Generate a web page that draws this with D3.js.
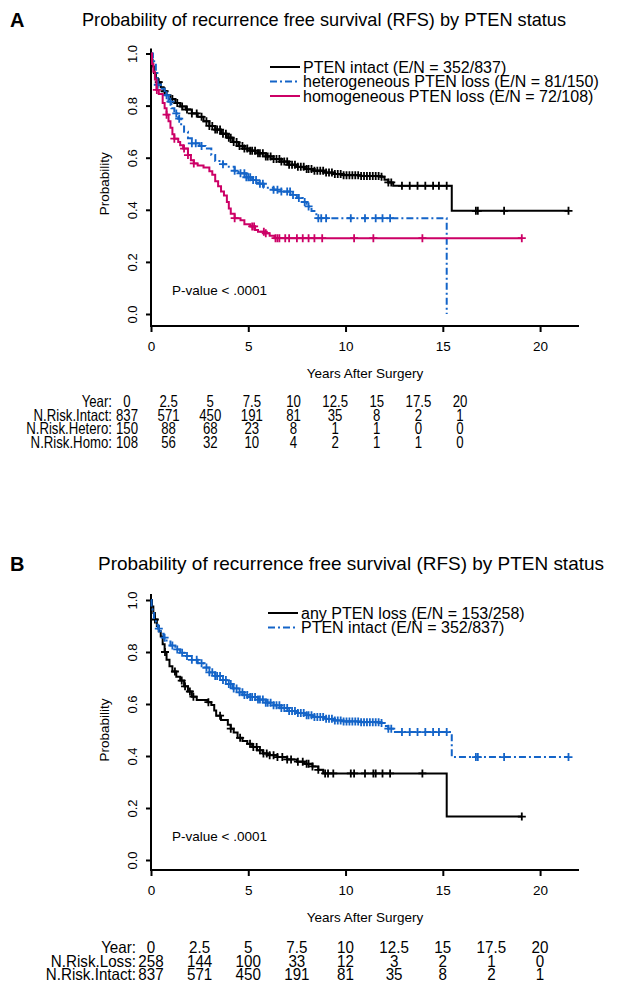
<!DOCTYPE html>
<meta charset="utf-8">
<style>
  body { margin: 0; background: #fff; }
  svg text { font-family: "Liberation Sans", Arial, sans-serif; fill: #000; }
</style>
<svg width="629" height="990"></svg>
<script src="https://d3js.org/d3.v7.min.js"></script>
<script>

  // ---------- data ----------
  var years = [0, 2.5, 5, 7.5, 10, 12.5, 15, 17.5, 20];
  var yearLabels = ["0", "2.5", "5", "7.5", "10", "12.5", "15", "17.5", "20"];

  // Kaplan-Meier steps: [years, probability]
  var intactSteps = [[0,1],[0.03,0.975],[0.08,0.95],[0.15,0.925],[0.25,0.905],[0.35,0.89],[0.5,0.87],
    [0.65,0.855],[0.8,0.84],[1.0,0.825],[1.25,0.81],[1.5,0.797],[1.8,0.785],[2.1,0.77],[2.4,0.757],
    [2.7,0.74],[3.0,0.722],[3.3,0.708],[3.6,0.692],[3.9,0.677],[4.2,0.66],[4.5,0.645],[4.8,0.635],
    [5.1,0.627],[5.5,0.617],[5.9,0.605],[6.3,0.595],[6.7,0.585],[7.1,0.573],[7.5,0.565],[7.9,0.557],
    [8.4,0.55],[8.9,0.543],[9.4,0.537],[9.9,0.533],[10.8,0.53],[11.8,0.527],[12.0,0.515],[12.2,0.505],
    [12.45,0.492],[15.46,0.396],[21.46,0.396]];
  var intactCensor = [0.4,0.7,1.1,1.35,1.6,1.85,2.1,2.35,2.6,2.85,3.0,3.15,3.3,3.4,3.55,3.7,3.85,4.0,
    4.1,4.25,4.4,4.55,4.7,4.8,4.95,5.1,5.2,5.35,5.5,5.6,5.75,5.9,6.0,6.15,6.3,6.45,6.6,6.7,6.85,7.0,
    7.1,7.25,7.4,7.55,7.7,7.85,8.0,8.1,8.25,8.4,8.55,8.7,8.85,9.0,9.15,9.3,9.45,9.6,9.75,9.9,10.05,
    10.2,10.35,10.5,10.65,10.8,10.95,11.1,11.25,11.4,11.55,11.7,11.85,12.2,12.35,12.9,13.3,13.7,
    14.1,14.5,14.8,15.2,16.7,16.8,18.15,21.46];

  var heteroSteps = [[0,1],[0.1,0.97],[0.25,0.93],[0.33,0.88],[0.5,0.865],[0.7,0.84],[0.9,0.815],
    [1.05,0.79],[1.2,0.77],[1.4,0.75],[1.55,0.72],[1.7,0.7],[1.9,0.675],[2.1,0.655],[2.5,0.645],
    [2.8,0.635],[3.1,0.61],[3.3,0.587],[3.7,0.575],[4.0,0.565],[4.3,0.55],[4.5,0.54],[4.9,0.525],
    [5.2,0.514],[5.5,0.5],[5.8,0.485],[6.3,0.477],[6.7,0.47],[7.2,0.457],[7.5,0.445],[7.8,0.43],
    [8.0,0.413],[8.25,0.395],[8.5,0.368],[15.2,0]];
  var heteroCensor = [0.35,0.8,1.0,1.3,1.45,2.1,2.3,2.6,3.7,4.3,4.6,4.8,4.9,5.0,5.1,5.25,5.4,5.6,
    5.75,6.3,6.5,6.7,7.0,7.15,7.3,7.6,7.9,8.1,8.6,8.75,9.0,10.27,11.0,11.55,11.9,12.29];

  var homoSteps = [[0,1],[0.05,0.96],[0.12,0.93],[0.2,0.9],[0.28,0.86],[0.4,0.845],[0.6,0.81],
    [0.7,0.79],[0.8,0.765],[0.9,0.74],[1.0,0.715],[1.1,0.69],[1.2,0.673],[1.4,0.66],[1.5,0.648],
    [1.65,0.635],[1.9,0.61],[2.05,0.59],[2.2,0.578],[2.4,0.57],[2.7,0.562],[3.0,0.548],[3.15,0.535],
    [3.3,0.51],[3.45,0.49],[3.6,0.47],[3.75,0.455],[3.9,0.43],[4.0,0.405],[4.1,0.385],[4.3,0.368],
    [4.6,0.36],[4.8,0.345],[5.1,0.336],[5.35,0.322],[5.5,0.316],[5.85,0.31],[6.1,0.3],[6.35,0.291],
    [19.06,0.291]];
  var homoCensor = [0.3,0.8,1.2,1.7,1.9,2.2,4.3,5.2,5.3,5.8,5.9,6.4,6.5,6.6,6.9,7.1,7.5,7.8,8.1,
    8.4,8.8,10.44,11.43,13.95,19.06];

  var lossSteps = [[0,1],[0.05,0.975],[0.12,0.95],[0.2,0.925],[0.3,0.9],[0.4,0.88],[0.5,0.86],
    [0.6,0.83],[0.7,0.8],[0.8,0.77],[0.95,0.745],[1.1,0.725],[1.3,0.705],[1.5,0.69],[1.7,0.668],
    [1.9,0.648],[2.1,0.628],[2.35,0.615],[2.9,0.607],[3.1,0.596],[3.25,0.575],[3.35,0.555],
    [3.6,0.538],[3.95,0.52],[4.1,0.505],[4.25,0.49],[4.45,0.47],[4.7,0.458],[4.95,0.447],[5.2,0.435],
    [5.45,0.422],[5.75,0.41],[6.0,0.403],[6.5,0.396],[7.0,0.387],[7.5,0.378],[7.9,0.37],[8.3,0.36],
    [8.6,0.347],[8.85,0.333],[15.2,0.167],[19.06,0.167]];
  var lossCensor = [0.2,0.72,1.23,1.58,1.75,2.0,2.18,2.95,3.55,4.1,4.58,5.09,5.26,5.43,5.6,5.78,
    5.95,6.1,6.3,6.5,6.75,7.0,7.2,7.55,7.8,8.0,8.1,8.3,8.6,8.95,9.1,9.37,10.27,10.44,11.0,11.43,
    11.55,11.9,12.29,13.95,19.06];

  // numbers at risk
  var riskIntact = [837, 571, 450, 191, 81, 35, 8, 2, 1];
  var riskHetero = [150, 88, 68, 23, 8, 1, 1, 0, 0];
  var riskHomo   = [108, 56, 32, 10, 4, 2, 1, 1, 0];
  var riskLoss   = [258, 144, 100, 33, 12, 3, 2, 1, 0];

  var legendA = ["PTEN intact (E/N = 352/837)", "heterogeneous PTEN loss (E/N = 81/150)",
                 "homogeneous PTEN loss (E/N = 72/108)"];
  var legendB = ["any PTEN loss (E/N = 153/258)", "PTEN intact (E/N = 352/837)"];

  var title = "Probability of recurrence free survival (RFS) by PTEN status";

  var BLACK = "#000", BLUE = "#1464c8", PINK = "#cc0066";
  var DASHDOT = "7,3,2,3";

  var svg = d3.select("svg");

  function stepAt(steps, t) {
    var s = steps[0][1];
    steps.forEach(function(p) { if (p[0] <= t) s = p[1]; });
    return s;
  }

  function panel(o) {
    var g = svg.append("g");
    var x = d3.scaleLinear().domain([0, 22]).range([151, 579]);
    var y = d3.scaleLinear().domain([0, 1]).range([o.y0, o.y1]);

    // panel letter + title
    g.append("text").attr("x", 10).attr("y", o.titleY + 7)
      .style("font-size", "20px").style("font-weight", "bold").text(o.letter);
    g.append("text").attr("x", o.titleX).attr("y", o.titleY + 6)
      .attr("textLength", o.titleW).attr("lengthAdjust", "spacingAndGlyphs")
      .style("font-size", "19px").text(title);

    // L-shaped frame
    g.append("path")
      .attr("d", "M" + x(0) + "," + (y(1) - o.topPad) + "V" + o.axisY + "H" + x(22))
      .attr("fill", "none").attr("stroke", "#000").attr("stroke-width", 2);

    // x axis
    var xa = g.append("g").attr("transform", "translate(0," + o.axisY + ")")
      .call(d3.axisBottom(x).tickValues([0, 5, 10, 15, 20]).tickSize(6).tickPadding(9));
    xa.select(".domain").remove();
    xa.selectAll("line").attr("stroke-width", 2);
    xa.selectAll("text").style("font-size", "13.5px").attr("fill", "#000");

    // y axis
    var ya = g.append("g").attr("transform", "translate(" + x(0) + ",0)")
      .call(d3.axisLeft(y).tickValues([0, 0.2, 0.4, 0.6, 0.8, 1]).tickFormat(d3.format(".1f")).tickSize(5));
    ya.select(".domain").remove();
    ya.selectAll("line").attr("stroke-width", 2);
    ya.selectAll("text")
      .attr("x", 0).attr("y", -14).attr("dy", "0")
      .attr("transform", "rotate(-90)")
      .attr("text-anchor", "middle")
      .style("font-size", "13px").attr("fill", "#000");

    g.append("text")
      .attr("transform", "translate(109," + y(0.5) + ") rotate(-90)")
      .attr("text-anchor", "middle").style("font-size", "13.5px").text("Probability");

    g.append("text").attr("x", (x(0) + x(22)) / 2).attr("y", o.axisY + 52)
      .attr("text-anchor", "middle").style("font-size", "13.5px").text("Years After Surgery");

    g.append("text").attr("x", 172).attr("y", y(0.09) + 4.5)
      .style("font-size", "13.5px").text("P-value < .0001");

    // curves
    var line = d3.line().x(function(d) { return x(d[0]); }).y(function(d) { return y(d[1]); })
      .curve(d3.curveStepAfter);
    o.series.forEach(function(s) {
      g.append("path").datum(s.steps).attr("d", line)
        .attr("fill", "none").attr("stroke", s.color).attr("stroke-width", 2)
        .attr("stroke-dasharray", s.dash || null);
      g.append("g").selectAll("path").data(s.censor).join("path")
        .attr("transform", function(t) { return "translate(" + x(t) + "," + y(stepAt(s.steps, t)) + ")"; })
        .attr("d", "M-4,0H4M0,-4V4")
        .attr("stroke", s.color).attr("stroke-width", 1.8);
    });

    // legend
    o.legend.forEach(function(lbl, i) {
      var s = o.series[o.legendOrder[i]];
      var ly = o.legendY + i * 14.5;
      g.append("line").attr("x1", o.legendX).attr("x2", o.legendX + 30)
        .attr("y1", ly).attr("y2", ly).attr("stroke", s.color).attr("stroke-width", 2)
        .attr("stroke-dasharray", s.dash || null);
      g.append("text").attr("x", o.legendX + 33).attr("y", ly + 5.5)
        .style("font-size", "16px").text(lbl);
    });

    // numbers at risk, own column scale per panel
    var col = d3.scaleLinear().domain([0, 20]).range(o.tableCols);
    o.table.forEach(function(row, r) {
      var ty = o.tableY + r * 13.6;
      g.append("text")
        .attr("transform", "translate(" + o.tableLabelX + "," + ty + ") scale(" + o.tableSx + ",1)")
        .attr("text-anchor", "end").style("font-size", "16.5px").text(row.label);
      g.append("g").selectAll("text").data(row.values).join("text")
        .attr("transform", function(v, j) { return "translate(" + col(years[j]) + "," + ty + ") scale(" + o.tableSx + ",1)"; })
        .attr("text-anchor", "middle").style("font-size", "16.5px").text(function(v) { return v; });
    });
  }

  panel({
    letter: "A", titleX: 82, titleY: 20, titleW: 484,
    y0: 314, y1: 53.5, topPad: 5, axisY: 326,
    series: [
      {steps: intactSteps, censor: intactCensor, color: BLACK},
      {steps: heteroSteps, censor: heteroCensor, color: BLUE, dash: DASHDOT},
      {steps: homoSteps, censor: homoCensor, color: PINK}
    ],
    legend: legendA, legendOrder: [0, 1, 2], legendX: 270, legendY: 67,
    tableY: 407, tableCols: [127, 460], tableLabelX: 112, tableSx: 0.8,
    table: [
      {label: "Year:", values: yearLabels},
      {label: "N.Risk.Intact:", values: riskIntact},
      {label: "N.Risk.Hetero:", values: riskHetero},
      {label: "N.Risk.Homo:", values: riskHomo}
    ]
  });

  panel({
    letter: "B", titleX: 98, titleY: 564, titleW: 506,
    y0: 860, y1: 600, topPad: 6, axisY: 870,
    series: [
      {steps: lossSteps, censor: lossCensor, color: BLACK},
      {steps: intactSteps, censor: intactCensor, color: BLUE, dash: DASHDOT}
    ],
    legend: legendB, legendOrder: [0, 1], legendX: 268, legendY: 613,
    tableY: 953, tableCols: [151, 540], tableLabelX: 136, tableSx: 0.92,
    table: [
      {label: "Year:", values: yearLabels},
      {label: "N.Risk.Loss:", values: riskLoss},
      {label: "N.Risk.Intact:", values: riskIntact}
    ]
  });

</script>
